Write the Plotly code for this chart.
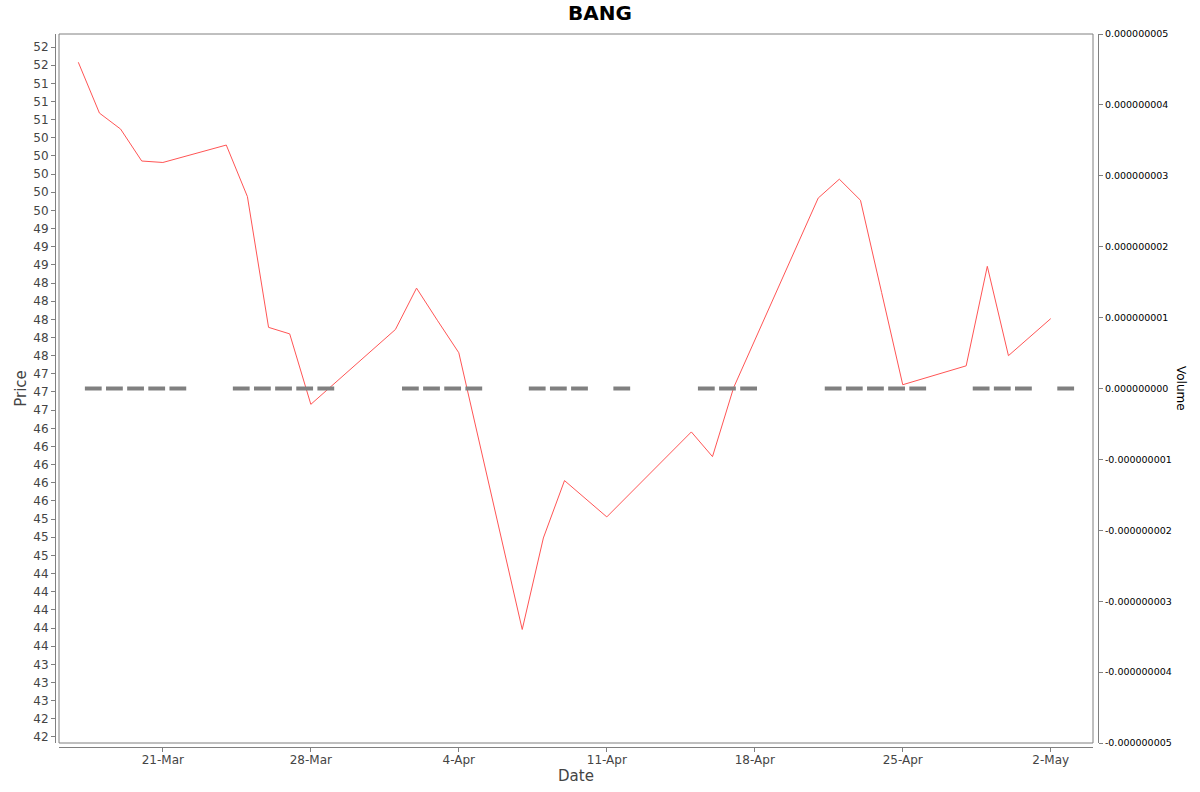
import plotly.graph_objects as go
import pandas as pd

# trading days and closing prices
dates = ["2025-03-17", "2025-03-18", "2025-03-19", "2025-03-20", "2025-03-21",
         "2025-03-24", "2025-03-25", "2025-03-26", "2025-03-27", "2025-03-28",
         "2025-04-01", "2025-04-02", "2025-04-03", "2025-04-04",
         "2025-04-07", "2025-04-08", "2025-04-09", "2025-04-11",
         "2025-04-15", "2025-04-16", "2025-04-17",
         "2025-04-21", "2025-04-22", "2025-04-23", "2025-04-24", "2025-04-25",
         "2025-04-28", "2025-04-29", "2025-04-30", "2025-05-02"]
prices = [51.54, 50.84, 50.62, 50.18, 50.16,
          50.40, 49.69, 47.89, 47.80, 46.83,
          47.86, 48.43, 47.98, 47.54,
          43.73, 44.99, 45.78, 45.28,
          46.45, 46.11, 47.06,
          49.67, 49.93, 49.64, 48.37, 47.10,
          47.36, 48.73, 47.50, 48.01]
volumes = [0, 0, 0, 0, 0,
           0, 0, 0, 0, 0,
           0, 0, 0, 0,
           0, 0, 0, 0,
           0, 0, 0,
           0, 0, 0, 0, 0,
           0, 0, 0, 0]

# left axis ticks (0.25 apart, labels rounded to whole numbers)
price_tickvals = [42.25 + 0.25 * i for i in range(39)]
price_ticktext = ["42", "42", "43", "43", "43", "44", "44", "44", "44", "44",
                  "45", "45", "45", "46", "46", "46", "46", "46", "47", "47",
                  "47", "48", "48", "48", "48", "48", "49", "49", "49", "50",
                  "50", "50", "50", "50", "51", "51", "51", "52", "52"]

vol_tickvals = [-5e-9, -4e-9, -3e-9, -2e-9, -1e-9, 0, 1e-9, 2e-9, 3e-9, 4e-9, 5e-9]
vol_ticktext = ["-0.000000005", "-0.000000004", "-0.000000003", "-0.000000002",
                "-0.000000001", "0.000000000", "0.000000001", "0.000000002",
                "0.000000003", "0.000000004", "0.000000005"]

W, H = 1200, 792
ml, mr, mt, mb = 55, 102, 34, 45
pw = W - ml - mr
ph = H - mt - mb
x_dom = [4 / pw, (1093 - ml) / pw]
y_dom = [4 / ph, 1]

AX = "#808080"
TXT = "#444444"
FONT = "DejaVu Sans"

fig = go.Figure()

fig.add_trace(go.Scatter(
    x=pd.to_datetime(dates) + pd.Timedelta(hours=17),
    y=volumes,
    yaxis="y2",
    mode="markers",
    marker=dict(symbol="line-ew", size=12, line=dict(width=4, color="#808080")),
    hoverinfo="skip",
    showlegend=False,
))

fig.add_trace(go.Scatter(
    x=dates,
    y=prices,
    mode="lines",
    line=dict(color="#ff5555", width=1),
    showlegend=False,
))

fig.update_layout(
    width=W, height=H,
    margin=dict(l=ml, r=mr, t=mt, b=mb, autoexpand=False),
    paper_bgcolor="white",
    plot_bgcolor="white",
    font=dict(family=FONT, color=TXT),
    title=dict(text="BANG", x=0.5, xanchor="center", y=1 - 13 / H, yanchor="middle",
               automargin=False,
               font=dict(family=FONT, size=20, color="black", weight="bold")),
    xaxis=dict(
        domain=x_dom,
        anchor="free", position=0,
        automargin=False,
        type="date",
        range=["2025-03-16 02:05", "2025-05-04 00:00"],
        tick0="2025-03-21", dtick=7 * 24 * 3600 * 1000,
        tickformat="%-d-%b",
        ticks="outside", ticklen=4, tickcolor=AX,
        ticklabelstandoff=-2,
        tickfont=dict(size=12, color=TXT),
        showline=True, linecolor=AX, linewidth=1,
        showgrid=False, zeroline=False,
        title=dict(text="Date", font=dict(size=15, color=TXT), standoff=2),
    ),
    yaxis=dict(
        domain=y_dom,
        anchor="free", position=0,
        automargin=False,
        range=[42.167, 51.929],
        tickmode="array", tickvals=price_tickvals, ticktext=price_ticktext,
        ticks="outside", ticklen=4, tickcolor=AX,
        tickfont=dict(size=12, color=TXT),
        showline=True, linecolor=AX, linewidth=1,
        showgrid=False, zeroline=False,
        title=dict(text="Price", font=dict(size=15, color=TXT), standoff=2),
    ),
    yaxis2=dict(
        overlaying="y",
        side="right",
        anchor="free", position=1,
        automargin=False,
        range=[-5e-9, 5e-9],
        tickmode="array", tickvals=vol_tickvals, ticktext=vol_ticktext,
        ticks="outside", ticklen=4, tickcolor=AX,
        tickfont=dict(size=9.5, color="black"),
        showline=True, linecolor=AX, linewidth=1,
        showgrid=False, zeroline=False,
    ),
    shapes=[dict(type="rect", xref="paper", yref="paper",
                 x0=x_dom[0], x1=x_dom[1], y0=y_dom[0], y1=1,
                 line=dict(color=AX, width=1), fillcolor="rgba(0,0,0,0)", layer="above")],
    annotations=[dict(text="Volume", xref="paper", yref="paper",
                      x=(1181 - ml) / pw, y=(H - mb - 388) / ph,
                      xanchor="center", yanchor="middle", textangle=90,
                      showarrow=False, font=dict(size=12, color="black"))],
)

fig.write_html("out.html", config={"displayModeBar": False},
               post_script="document.body.style.margin='0';")
